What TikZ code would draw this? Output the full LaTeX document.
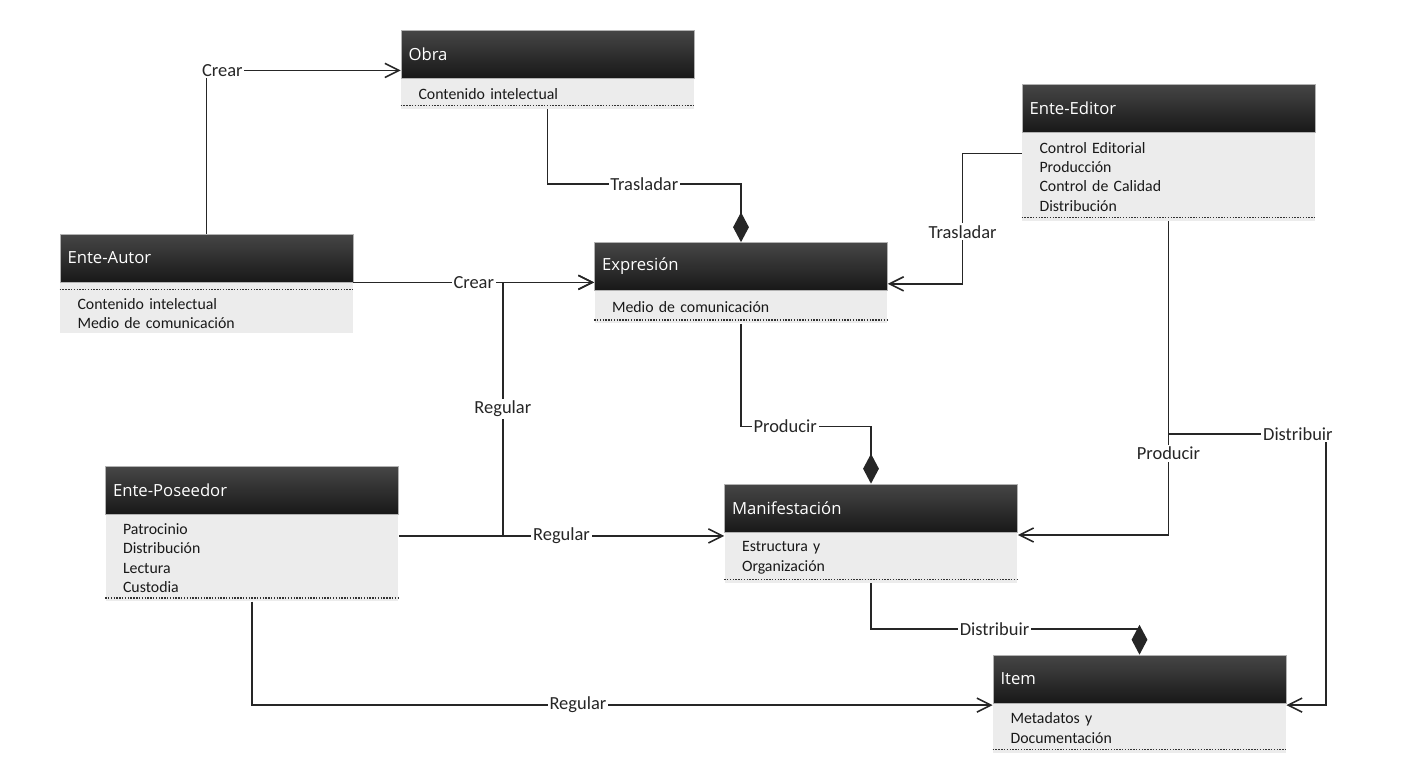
\documentclass[tikz,border=0pt]{standalone}
\usepackage{fontspec}
\setmainfont{Carlito}
\newfontfamily\titlefont{Open Sans}
\usepackage{tikz}
\usetikzlibrary{arrows.meta, positioning, calc}
\definecolor{hdrtop}{RGB}{70,70,70}
\definecolor{hdrbot}{RGB}{24,24,24}
\definecolor{bodygray}{RGB}{236,236,236}
\definecolor{linegray}{RGB}{38,38,38}

\tikzset{
  clase/.style={draw=gray!60, line width=0.4pt, top color=hdrtop, bottom color=hdrbot,
    minimum width=5.86cm, minimum height=0.96cm, text width=5.56cm, inner xsep=0pt,
    align=left, text=white, font=\titlefont\fontsize{9.5}{11}\selectfont},
  cuerpo/.style={fill=bodygray, minimum width=5.86cm, text width=5.16cm, inner sep=0pt,
    align=left, below=0pt of #1, text=black!90, font=\fontsize{9}{11}\selectfont},
  punteado/.style={black!80, line width=0.8pt, dash pattern=on 0.8pt off 0.8pt},
  linea/.style={draw=linegray, line width=0.9pt},
  asoc/.style={linea, -{Straight Barb[length=8pt,width=8pt]}},
  comp/.style={linea, -{Diamond[length=17pt,width=9pt]}},
  etiq/.style={fill=white, inner sep=1pt, text=black!85, font=\fontsize{10.5}{12}\selectfont}
}

\begin{document}
\begin{tikzpicture}[x=0.02cm, y=-0.02cm]
  \useasboundingbox (0,0) rectangle (1417,764);

  \node[clase] (obra) at (547.5,54) {Obra};
  \node[cuerpo=obra, minimum height=0.6cm] (obra-b) {Contenido intelectual};
  \node[clase] (autor) at (206.5,258) {Ente-Autor};
  \node[cuerpo=autor, minimum height=1.0cm] (autor-b) {\rule{0pt}{13pt}Contenido intelectual\\Medio de comunicación};
  \node[clase] (expr) at (741,266.5) {Expresión};
  \node[cuerpo=expr, minimum height=0.64cm] (expr-b) {Medio de comunicación};
  \node[clase] (editor) at (1168.5,108) {Ente-Editor};
  \node[cuerpo=editor, minimum height=1.76cm] (editor-b) {Control Editorial\\Producción\\Control de Calidad\\Distribución};
  \node[clase] (poseedor) at (252,490.5) {Ente-Poseedor};
  \node[cuerpo=poseedor, minimum height=1.72cm] (poseedor-b) {Patrocinio\\Distribución\\Lectura\\Custodia};
  \node[clase] (manif) at (871,508) {Manifestación};
  \node[cuerpo=manif, minimum height=1.0cm] (manif-b) {Estructura y\\Organización};
  \node[clase] (item) at (1139.5,679) {Item};
  \node[cuerpo=item, minimum height=0.98cm] (item-b) {Metadatos y\\Documentación};

  \foreach \b in {obra-b, expr-b, editor-b, poseedor-b, manif-b, item-b}
    \draw[punteado] ([yshift=2pt]\b.south west) -- ([yshift=2pt]\b.south east);
  \draw[punteado] ([yshift=-4pt]autor-b.north west) -- ([yshift=-4pt]autor-b.north east);

  % Ente-Autor
  \draw[asoc] (autor.north) |- node[etiq, pos=0.5, xshift=9pt] {Crear} ([yshift=4.5pt]obra.south west);
  \draw[asoc] (autor.south east) -- node[etiq, midway] {Crear} (autor.south east -| expr.west);

  % Obra y Ente-Editor
  \draw[comp] (obra-b.south) -- ++(0,75) -| node[etiq, pos=0.25] {Trasladar} (expr.north);
  \draw[asoc] ([yshift=-12pt]editor.south west) -- ++(-59,0)
    |- node[etiq, pos=0.3] {Trasladar} ([yshift=4pt]expr.south east);
  \draw[asoc] (editor-b.south) |- node[etiq, pos=0.37] {Producir} ([yshift=-1.5pt]manif.south east);
  \coordinate (dist-e) at (1326,434);
  \draw[asoc] (editor-b.south |- dist-e) -- (dist-e) node[etiq, xshift=-16pt] {Distribuir}
    |- ([yshift=-1pt]item.south east);

  % Expresion y Manifestacion
  \draw[comp] (expr-b.south) -- ++(0,103) -| node[etiq, pos=0.17] {Producir} (manif.north);
  \draw[comp] (manif-b.south) -- ++(0,46) -| node[etiq, pos=0.23] {Distribuir} (item.north);

  % Ente-Poseedor
  \coordinate (pos-out) at ([yshift=-12pt]poseedor.south east);
  \path (pos-out) ++(104,0) coordinate (junta);
  \draw[asoc] (pos-out) -- node[etiq, midway] {Regular} (pos-out -| manif.west);
  \draw[asoc] (junta) |- node[etiq, pos=0.25] {Regular} (autor.south east -| expr.west);
  \draw[asoc] (poseedor-b.south) |- node[etiq, pos=0.72] {Regular} ([yshift=-1pt]item.south west);
\end{tikzpicture}
\end{document}
